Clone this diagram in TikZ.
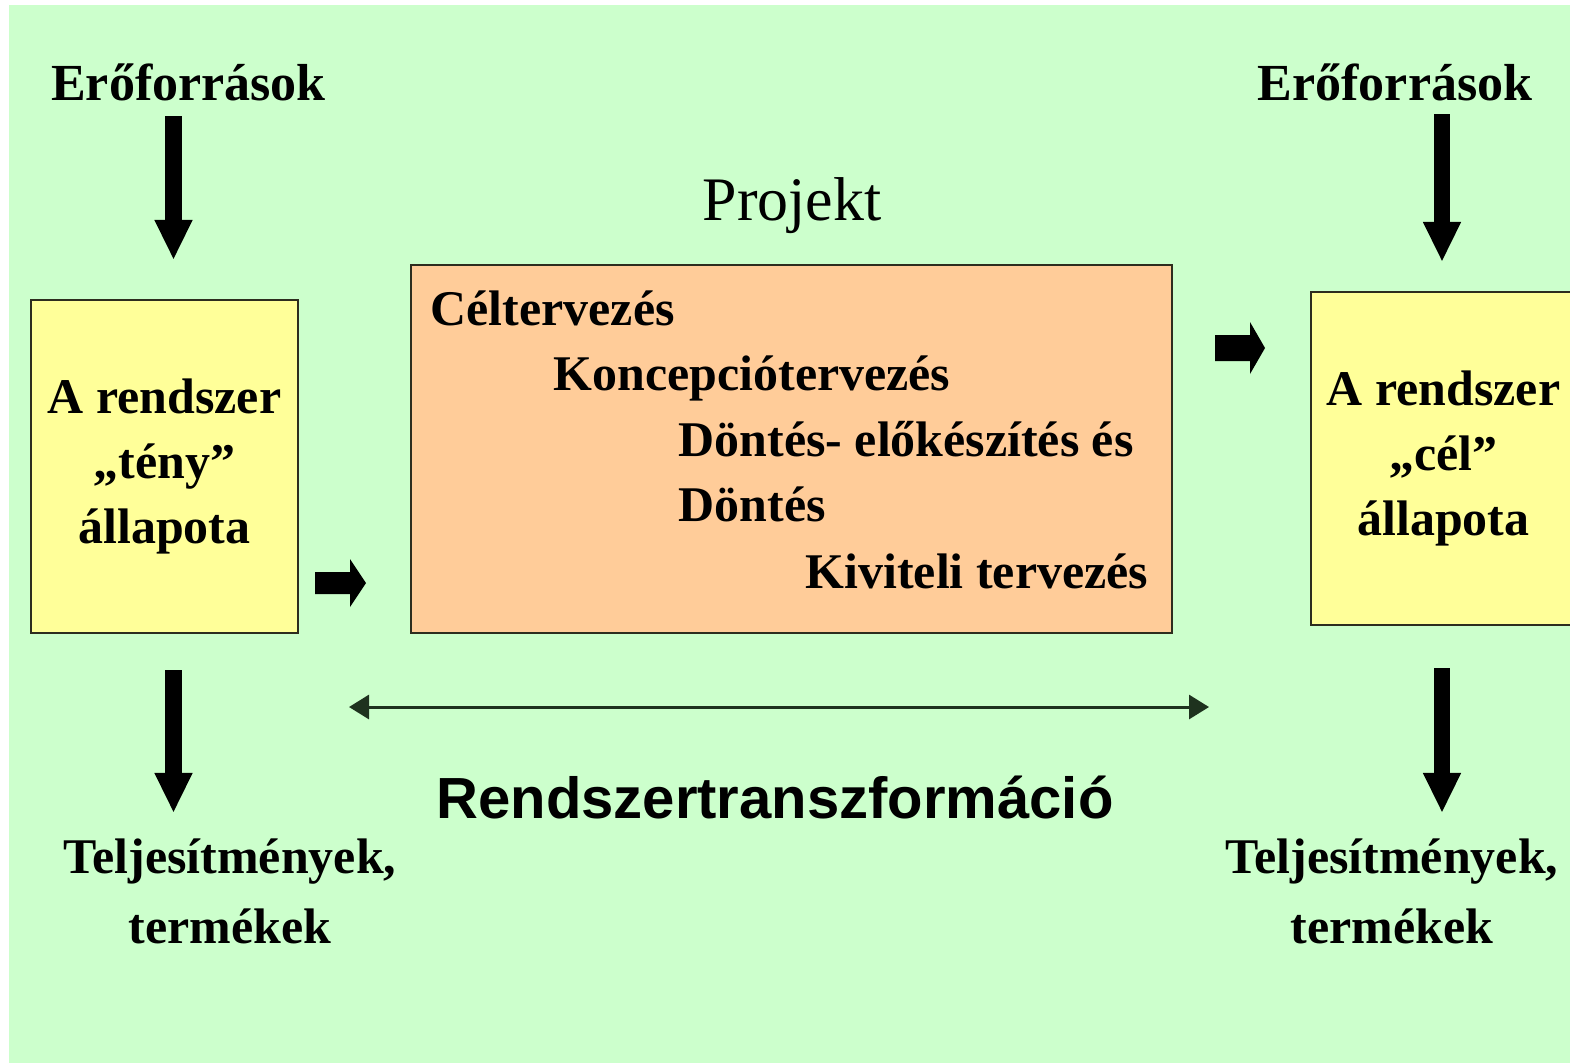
\documentclass[tikz,border=0pt]{standalone}
\usepackage{fontspec}
\setmainfont{Liberation Serif}
\newfontfamily\trfont{Liberation Sans}
\usepackage{tikz}
\usetikzlibrary{arrows.meta,positioning,calc}
\usepackage{xcolor}
\definecolor{bggreen}{RGB}{204,255,204}
\definecolor{stateyellow}{RGB}{255,255,153}
\definecolor{projorange}{RGB}{255,204,153}
\definecolor{edgedark}{RGB}{45,45,30}
\definecolor{trline}{RGB}{30,50,30}
\tikzstyle{txt} = [inner sep=0pt, font=\fontsize{14.2pt}{18.5pt}\selectfont\bfseries]
\tikzstyle{outtxt} = [inner sep=0pt, align=center, font=\fontsize{14.2pt}{19.9pt}\selectfont\bfseries]
\tikzstyle{state} = [draw=edgedark, line width=0.7pt, fill=stateyellow, minimum width=2.67cm, minimum height=3.33cm, inner sep=0pt, align=center, font=\fontsize{14.2pt}{18.5pt}\selectfont\bfseries]
\tikzstyle{downarrow} = [line width=0.16cm, -{Triangle[width=0.35cm,length=0.4cm]}]
\tikzstyle{trarrow} = [line width=0.03cm, color=trline, {Triangle[width=0.24cm,length=0.2cm]}-{Triangle[width=0.24cm,length=0.2cm]}]

\begin{document}
\begin{tikzpicture}[x=0.01cm, y=-0.01cm]
\useasboundingbox (0,0) rectangle (1570,1063);
% Background
\fill[white] (0,0) rectangle (1570,1063);
\fill[bggreen] (9,5) rectangle (1570,1063);

% State boxes
\node[state] (teny) at (164.5,466.5) {A rendszer\\„tény”\\állapota};
\node[state, minimum width=2.65cm] (cel) at (1443.5,458.5) {A rendszer\\„cél”\\állapota};

% Project box
\node[draw=edgedark, line width=0.7pt, fill=projorange, minimum width=7.61cm, minimum height=3.68cm] (proj) at (791.5,449) {};
\node[inner sep=0pt, anchor=base, font=\fontsize{17.6pt}{20pt}\selectfont] (projtitle) at (792,220) {Projekt};
\node[txt, anchor=base west] (cel1) at (430,325) {Céltervezés};
\node[txt, anchor=base west] (konc) at (553,390) {Koncepciótervezés};
\node[txt, anchor=base west] (elok) at (678,456) {Döntés- előkészítés és};
\node[txt, anchor=base west] (dont) at (678,521) {Döntés};
\node[txt, anchor=base west] (kivi) at (805,588) {Kiviteli tervezés};

% Inputs and outputs
\node[txt, anchor=base, font=\fontsize{14.8pt}{18pt}\selectfont\bfseries] (eroL) at (188.5,100) {Erőforrások};
\node[txt, anchor=base, font=\fontsize{14.8pt}{18pt}\selectfont\bfseries] (eroR) at (1395,100) {Erőforrások};
\node[outtxt, anchor=north] (telL) at (230,838) {Teljesítmények,\\termékek};
\node[outtxt, anchor=north] (telR) at (1392,838) {Teljesítmények,\\termékek};
\node[inner sep=0pt, anchor=base, font=\trfont\fontsize{16.5pt}{20pt}\selectfont\bfseries] (transz) at (775,818) {Rendszertranszformáció};

% Arrows
\coordinate (inL) at (173.5,260);
\coordinate (inR) at (1442,262);
\coordinate (outL) at (173.5,670);
\coordinate (outR) at (1442,668);
\draw[downarrow] ($(eroL.south -| inL)+(0,15)$) -- (inL);
\draw[downarrow] ($(eroR.south -| inR)+(0,13)$) -- (inR);
\draw[downarrow] (outL) -- ($(telL.north -| outL)+(0,-25)$);
\draw[downarrow] (outR) -- ($(telR.north -| outR)+(0,-25)$);

\coordinate (trL) at (349,707);
\coordinate (trR) at (1209,707);
\draw[trarrow] (trL) -- (trR);

% Block arrows
\fill[shift={(315,583)}] (0,-11) -- (35,-11) -- (35,-24) -- (51,0) -- (35,24) -- (35,11) -- (0,11) -- cycle;
\fill[shift={(1215,348)}] (0,-13) -- (35,-13) -- (35,-26) -- (50,0) -- (35,26) -- (35,13) -- (0,13) -- cycle;
\end{tikzpicture}
\end{document}
